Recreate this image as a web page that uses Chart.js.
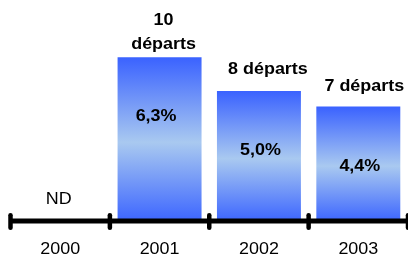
<!DOCTYPE html>
<html>
<head>
<meta charset="utf-8">
<script src="https://cdn.jsdelivr.net/npm/chart.js@4"></script>
<style>
  html, body { margin: 0; padding: 0; background: #fff; overflow: hidden; }
  #wrap { width: 408px; height: 260px; position: relative; }
</style>
</head>
<body>
<div id="wrap"><canvas id="departsChart"></canvas></div>
<script>
const years = ["2000", "2001", "2002", "2003"];
const rates = [null, 6.3, 5.0, 4.4];
const rateLabels = ["ND", "6,3%", "5,0%", "4,4%"];
const departures = [null, 10, 8, 7];

// label tweaks (style only)
const topLabelLines = [null, 2, 1, 1];
const topLabelGap = [0, 8.5, 17.5, 15.5];
const topLabelShift = [0, 4, 9, 6];
const rateLabelShift = [0, -3.5, 1.5, 1.5];

const FONT = '"Liberation Sans", Arial, sans-serif';

function stretchText(ctx, str, cx, baseline, weight) {
  ctx.save();
  ctx.font = weight + " 16px " + FONT;
  ctx.translate(cx, baseline);
  ctx.scale(1.12, 1);
  ctx.textAlign = "center";
  ctx.textBaseline = "alphabetic";
  ctx.fillStyle = "#000";
  ctx.fillText(str, 0, 0);
  ctx.restore();
}

function barGradient(c) {
  const v = rates[c.dataIndex];
  if (v == null || !c.chart.chartArea) return "#3c64ff";
  const ys = c.chart.scales.y;
  const top = ys.getPixelForValue(v);
  const bot = ys.getPixelForValue(0);
  const g = c.chart.ctx.createLinearGradient(0, top, 0, bot);
  g.addColorStop(0, "#3a62ff");
  g.addColorStop(0.52, "#a9c9f0");
  g.addColorStop(1, "#3d66ff");
  return g;
}

const axisAndTexts = {
  id: "axisAndTexts",
  afterDatasetsDraw(chart) {
    const ctx = chart.ctx;
    const x = chart.scales.x;
    const base = chart.chartArea.bottom;
    const meta = chart.getDatasetMeta(0);

    // axis line with round tick marks between categories
    ctx.save();
    ctx.strokeStyle = "#000";
    ctx.lineWidth = 5;
    ctx.beginPath();
    ctx.moveTo(x.left, base);
    ctx.lineTo(x.right + 2, base);
    ctx.stroke();
    ctx.lineWidth = 4.5;
    ctx.lineCap = "round";
    for (let i = 0; i <= years.length; i++) {
      const px = x.getPixelForValue(i - 0.5);
      ctx.beginPath();
      ctx.moveTo(px, base - 5.75);
      ctx.lineTo(px, base + 6.75);
      ctx.stroke();
    }
    ctx.restore();

    years.forEach((yr, i) => {
      const cx = x.getPixelForValue(i);
      stretchText(ctx, yr, cx, base + 33.3, "normal");

      if (rates[i] == null) {
        stretchText(ctx, rateLabels[i], cx - 1.5, base - 17, "normal");
        return;
      }
      const bar = meta.data[i];
      stretchText(ctx, rateLabels[i], bar.x + rateLabelShift[i], bar.y + 64, "bold");

      const tx = bar.x + topLabelShift[i];
      const tb = bar.y - topLabelGap[i];
      if (topLabelLines[i] === 2) {
        stretchText(ctx, String(departures[i]), tx, tb - 24, "bold");
        stretchText(ctx, "départs", tx, tb, "bold");
      } else {
        stretchText(ctx, departures[i] + " départs", tx, tb, "bold");
      }
    });
  }
};

new Chart(document.getElementById("departsChart"), {
  type: "bar",
  data: {
    labels: years,
    datasets: [
      {
        data: rates,
        backgroundColor: barGradient,
        borderWidth: 0,
        barPercentage: 0.845,
        categoryPercentage: 1
      }
    ]
  },
  options: {
    responsive: true,
    maintainAspectRatio: false,
    animation: false,
    layout: { padding: { left: 10.5, right: 0, top: 13, bottom: 39 } },
    scales: {
      x: { display: false },
      y: { display: false, min: 0, max: 8 }
    },
    plugins: {
      legend: { display: false },
      tooltip: { enabled: false }
    }
  },
  plugins: [axisAndTexts]
});
</script>
</body>
</html>
